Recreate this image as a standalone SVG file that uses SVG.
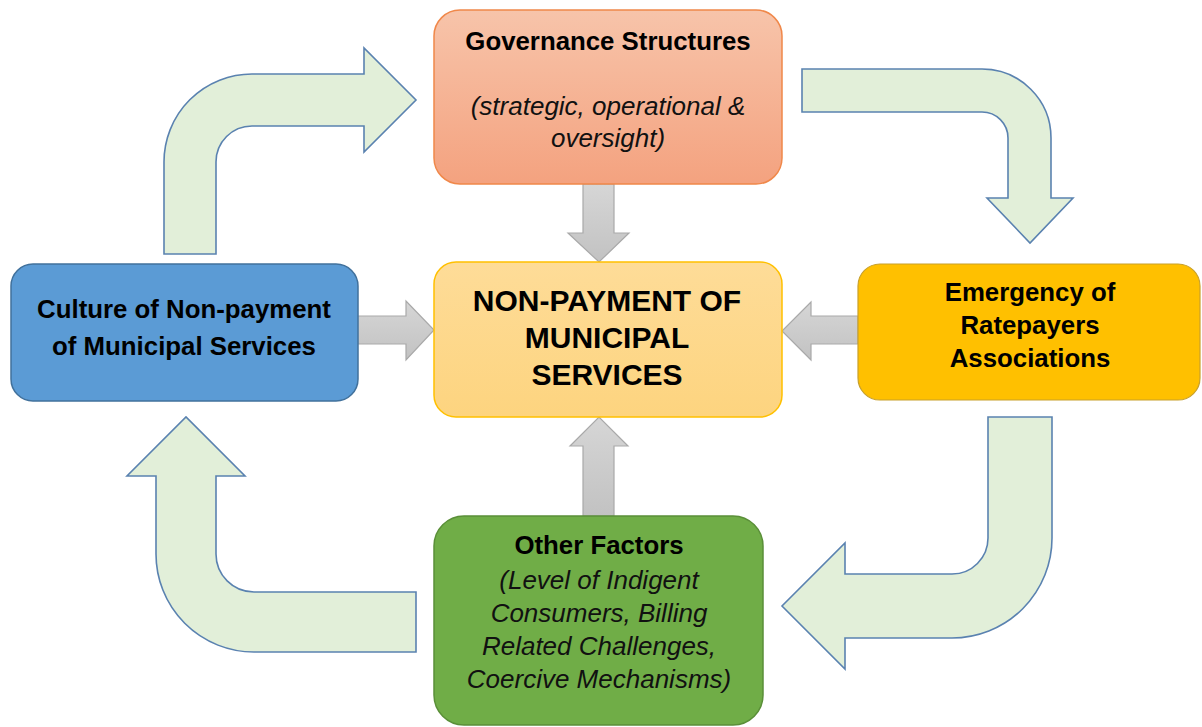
<svg xmlns="http://www.w3.org/2000/svg" width="1202" height="727" viewBox="0 0 1202 727">
  <defs>
    <linearGradient id="gradGov" x1="0" y1="0" x2="0" y2="1">
      <stop offset="0" stop-color="#f7c4aa"/>
      <stop offset="1" stop-color="#f4a27f"/>
    </linearGradient>
    <linearGradient id="gradCore" x1="0" y1="0" x2="0" y2="1">
      <stop offset="0" stop-color="#fedc98"/>
      <stop offset="1" stop-color="#fdd47f"/>
    </linearGradient>
    <linearGradient id="gradGray" x1="0" y1="0" x2="0" y2="1">
      <stop offset="0" stop-color="#d6d6d6"/>
      <stop offset="1" stop-color="#c2c2c2"/>
    </linearGradient>
  </defs>
  <style>
    .cycle { fill: #e2efd9; stroke: #5a82b0; stroke-width: 1.6; stroke-linejoin: miter; }
    .feed { fill: url(#gradGray); stroke: #a9a9a9; stroke-width: 1.2; }
    .title { font-family: "Liberation Sans", Arial, sans-serif; font-weight: bold; font-size: 25.8px; fill: #000; text-anchor: middle; }
    .note { font-family: "Liberation Sans", Arial, sans-serif; font-style: italic; font-size: 26px; fill: #111; text-anchor: middle; }
    .core { font-family: "Liberation Sans", Arial, sans-serif; font-weight: bold; font-size: 30px; fill: #000; text-anchor: middle; }
  </style>
  <rect width="1202" height="727" fill="#ffffff"/>

  <!-- connectors: curved cycle arrows and straight feeder arrows -->
  <g id="connectors">
    <path class="cycle" d="M164,254 L164,162 A88,88 0 0 1 252,74 L364,74 L364,48 L416,100 L364,152 L364,126 L252,126 A36,36 0 0 0 216,162 L216,254 Z"/>
    <path class="cycle" d="M802,69 L982,69 A69,69 0 0 1 1051,138 L1051,198 L1073,198 L1030,243 L987,198 L1008,198 L1008,138 A26,26 0 0 0 982,112 L802,112 Z"/>
    <path class="cycle" d="M988,417 L1052,417 L1052,538 A100,100 0 0 1 952,638 L845,638 L845,669 L782,606 L845,543 L845,574 L952,574 A36,36 0 0 0 988,538 Z"/>
    <path class="cycle" d="M416,592 L416,652 L254,652 A98,98 0 0 1 156,554 L156,476 L127,476 L186,417 L245,476 L216,476 L216,554 A38,38 0 0 0 254,592 Z"/>

    <path class="feed" d="M583,184 L614,184 L614,233 L629,233 L599,262 L568,233 L583,233 Z"/>
    <path class="feed" d="M357,316 L406,316 L406,301 L434,330 L406,360 L406,344 L357,344 Z"/>
    <path class="feed" d="M858,316 L811,316 L811,302 L782,331 L811,360 L811,344 L858,344 Z"/>
    <path class="feed" d="M583,516 L583,446 L570,446 L599,417 L628,446 L614,446 L614,516 Z"/>
  </g>

  <g id="governance">
    <rect x="434" y="10" width="348" height="174" rx="26" ry="26" fill="url(#gradGov)" stroke="#f0884a" stroke-width="1.5"/>
    <text class="title" x="608" y="50">Governance Structures</text>
    <text class="note" x="608" y="115">(strategic, operational &amp;</text>
    <text class="note" x="608" y="147">oversight)</text>
  </g>

  <g id="non-payment">
    <rect x="434" y="262" width="348" height="155" rx="22" ry="22" fill="url(#gradCore)" stroke="#ffc000" stroke-width="1.5"/>
    <text class="core" x="607" y="311">NON-PAYMENT OF</text>
    <text class="core" x="607" y="348">MUNICIPAL</text>
    <text class="core" x="607" y="385">SERVICES</text>
  </g>

  <g id="culture">
    <rect x="11" y="264" width="347" height="137" rx="22" ry="22" fill="#5b9bd5" stroke="#41719c" stroke-width="1.5"/>
    <text class="title" x="184" y="318">Culture of Non-payment</text>
    <text class="title" x="184" y="355">of Municipal Services</text>
  </g>

  <g id="ratepayers">
    <rect x="858" y="264" width="342" height="136" rx="22" ry="22" fill="#ffc000" stroke="#c8a02a" stroke-width="1.2"/>
    <text class="title" x="1030" y="301">Emergency of</text>
    <text class="title" x="1030" y="334">Ratepayers</text>
    <text class="title" x="1030" y="367">Associations</text>
  </g>

  <g id="other-factors">
    <rect x="434" y="516" width="329" height="209" rx="30" ry="30" fill="#70ad47" stroke="#5a8f38" stroke-width="1.5"/>
    <text class="title" x="599" y="554">Other Factors</text>
    <text class="note" x="599" y="589">(Level of Indigent</text>
    <text class="note" x="599" y="622">Consumers, Billing</text>
    <text class="note" x="599" y="655">Related Challenges,</text>
    <text class="note" x="599" y="688">Coercive Mechanisms)</text>
  </g>
</svg>
